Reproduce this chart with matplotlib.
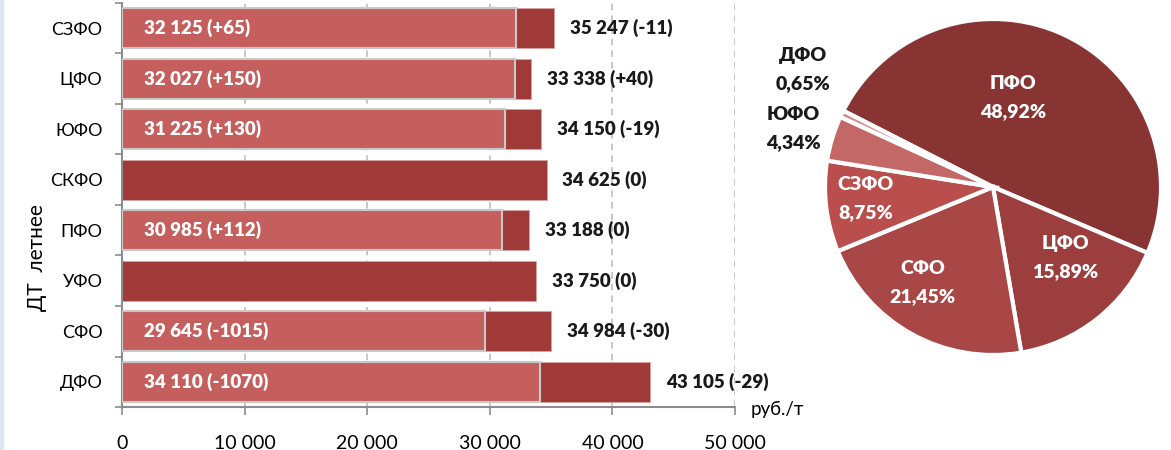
import numpy as np
import matplotlib
matplotlib.use("Agg")
import matplotlib.pyplot as plt
from matplotlib.patches import Rectangle

plt.rcParams['font.family'] = ['Lato', 'DejaVu Sans']

# --- data ---
regions = ['СЗФО', 'ЦФО', 'ЮФО', 'СКФО', 'ПФО', 'УФО', 'СФО', 'ДФО']
price_low = [32125, 32027, 31225, np.nan, 30985, np.nan, 29645, 34110]
price_low_chg = ['+65', '+150', '+130', None, '+112', None, '-1015', '-1070']
price_high = [35247, 33338, 34150, 34625, 33188, 33750, 34984, 43105]
price_high_chg = ['-11', '+40', '-19', '0', '0', '0', '-30', '-29']

share_regions = ['ПФО', 'ЦФО', 'СФО', 'СЗФО', 'ЮФО', 'ДФО']
share_values = [48.92, 15.89, 21.45, 8.75, 4.34, 0.65]

# --- style ---
c_light = '#c55f5e'
c_dark = '#a03a39'
pie_colors = ['#873433', '#9b3e3d', '#a94747', '#ba4e4c', '#c46867', '#d48d8b']
grid_c = '#bfbfbf'
spine_c = '#8c8c8c'
bold = 'heavy'


def fmt(v):
    return f'{int(v):,}'.replace(',', ' ')


fig = plt.figure(figsize=(11.71, 4.5), dpi=100)
fig.patches.append(Rectangle((0, 0), 3 / 1171, 1, transform=fig.transFigure,
                             color='#dce6f2', zorder=0))

W, H = 1171, 450
ax = fig.add_axes([122 / W, (H - 407) / H, (735 - 122) / W, 404 / H])

y = np.arange(len(regions))
low = np.array(price_low, dtype=float)
high = np.array(price_high, dtype=float)
base = np.nan_to_num(low, nan=0.0)

ax.barh(y, high - base, left=base, height=0.79, color=c_dark,
        edgecolor='#d9a3a2', linewidth=0.6, zorder=2)
ax.barh(y, low, height=0.79, color=c_light, edgecolor='#c8c8c8',
        linewidth=1.5, zorder=3)

for i in range(len(regions)):
    if not np.isnan(low[i]):
        ax.text(1800, y[i], f'{fmt(low[i])} ({price_low_chg[i]})', color='white',
                fontsize=13.5, fontweight=bold, va='center', ha='left', zorder=4)
    ax.text(high[i] + 1300, y[i], f'{fmt(high[i])} ({price_high_chg[i]})',
            color='#1a1a1a', fontsize=13.5, fontweight=bold, va='center',
            ha='left', zorder=4, clip_on=False)

ax.set_xlim(0, 50000)
ax.set_ylim(len(regions) - 0.5, -0.5)
ax.set_xticks(np.arange(0, 50001, 10000))
ax.set_xticklabels([fmt(v) for v in np.arange(0, 50001, 10000)], fontsize=14)
ax.set_yticks(y)
ax.set_yticklabels(regions, fontsize=13)
ax.set_yticks(np.arange(-0.5, len(regions), 1), minor=True)
ax.tick_params(axis='y', which='major', length=0, pad=14)
ax.tick_params(axis='y', which='minor', length=5, color=spine_c, width=1.2)
ax.tick_params(axis='x', length=6, color=spine_c, width=1.2, pad=14)
ax.grid(axis='x', color=grid_c, linestyle=(0, (4, 3)), linewidth=1.2, zorder=0)
for s in ['top', 'right']:
    ax.spines[s].set_visible(False)
for s in ['left', 'bottom']:
    ax.spines[s].set_color(spine_c)
    ax.spines[s].set_linewidth(1.5)
ax.set_ylabel('ДТ  летнее', fontsize=15)
ax.yaxis.set_label_coords(-0.122, 0.37)
ax.text(1.025, -0.005, 'руб./т', transform=ax.transAxes, fontsize=13.5,
        va='center', ha='left')

# pie
r_px = 168
L = 1.4
S = 2 * L * r_px
cx, cy = 993, 187
pax = fig.add_axes([(cx - S / 2) / W, (H - cy - S / 2) / H, S / W, S / H])
wedges, _ = pax.pie(share_values, colors=pie_colors, startangle=153,
                    counterclock=False, radius=1.0,
                    wedgeprops=dict(edgecolor='white', linewidth=3))
pax.set_xlim(-L, L)
pax.set_ylim(-L, L)
pax.set_aspect('equal')
pax.axis('off')

label_xy = [(0.12, 0.53), (0.43, -0.42), (-0.42, -0.57), (-0.76, -0.07),
            (-1.19, 0.35), (-1.13, 0.70)]
for i, (nm, v) in enumerate(zip(share_regions, share_values)):
    inside = i < 4
    pax.text(label_xy[i][0], label_xy[i][1],
             f'{nm}\n{v:.2f}%'.replace('.', ','),
             color='white' if inside else '#1a1a1a', fontsize=14,
             fontweight=bold, ha='center', va='center', linespacing=1.8)

fig.savefig('out.png', dpi=100)
